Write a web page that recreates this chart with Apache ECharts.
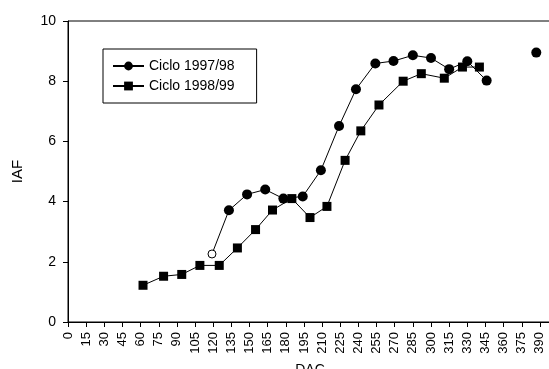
<!DOCTYPE html>
<html>
<head>
<meta charset="utf-8">
<title>IAF por ciclo</title>
<script src="https://cdn.jsdelivr.net/npm/echarts@6/dist/echarts.min.js"></script>
<style>
  html, body { margin: 0; padding: 0; background: #fff; }
  #main { width: 549px; height: 369px; }
</style>
</head>
<body>
<div id="main"></div>
<script>
// datos
var xTicks = [0,15,30,45,60,75,90,105,120,135,150,165,180,195,210,225,240,255,270,285,300,315,330,345,360,375,390];
var yTicks = [0,2,4,6,8,10];

// Ciclo 1997/98 (el primer punto va hueco)
var c97Days = [119,133,148,163,178,194,209,224,238,254,269,285,300,315,330,346];
var c97IAF  = [2.26,3.71,4.24,4.40,4.10,4.17,5.04,6.51,7.73,8.59,8.67,8.86,8.77,8.40,8.66,8.02];
var c97Hollow = [0];
// punto aislado del mismo ciclo, sin linea
var c97LoneDays = [387];
var c97LoneIAF  = [8.95];

// Ciclo 1998/99
var c98Days = [62,79,94,109,125,140,155,169,185,200,214,229,242,257,277,292,311,326,340];
var c98IAF  = [1.22,1.52,1.58,1.88,1.88,2.46,3.07,3.72,4.10,3.47,3.84,5.37,6.35,7.21,8.00,8.25,8.10,8.47,8.47];

function pairs(xs, ys) {
    return xs.map(function (x, i) { return [x, ys[i]]; });
}

var c97Data = pairs(c97Days, c97IAF).map(function (p, i) {
    if (c97Hollow.indexOf(i) >= 0) {
        return { value: p, symbolSize: 8,
                 itemStyle: { color: '#fff', borderColor: '#000', borderWidth: 1 } };
    }
    return p;
});

var font = 'Liberation Sans, Arial, sans-serif';

var myChart = echarts.init(document.getElementById('main'));

var option = {
    animation: false,
    backgroundColor: '#fff',
    grid: {
        left: 68, top: 21, right: -3, bottom: 47,
        show: true, borderColor: '#000', borderWidth: 1,
        containLabel: false, outerBoundsMode: 'none'
    },
    legend: {
        data: ['Ciclo 1997/98', 'Ciclo 1998/99'],
        orient: 'vertical',
        left: 103, top: 49,
        padding: [10, 22, 10, 9],
        itemWidth: 31, itemHeight: 11, itemGap: 6,
        borderColor: '#000', borderWidth: 1,
        textStyle: { fontFamily: font, fontSize: 14, color: '#000' }
    },
    xAxis: {
        type: 'value',
        min: 0, max: 400,
        name: 'DAC',
        nameLocation: 'middle',
        nameGap: 41,
        nameTextStyle: { fontFamily: font, fontSize: 14, color: '#000' },
        splitLine: { show: false },
        axisLine: { show: true, onZero: false, lineStyle: { color: '#000', width: 1 } },
        axisTick: { show: true, customValues: xTicks, length: 5, lineStyle: { color: '#000' } },
        axisLabel: {
            customValues: xTicks, rotate: 90, margin: 10,
            fontFamily: font, fontSize: 13, color: '#000'
        }
    },
    yAxis: {
        type: 'value',
        min: 0, max: 10, interval: 2,
        name: 'IAF',
        nameLocation: 'middle',
        nameGap: 43,
        nameTextStyle: { fontFamily: font, fontSize: 15, color: '#000' },
        splitLine: { show: false },
        axisLine: { show: true, lineStyle: { color: '#000', width: 1 } },
        axisTick: { show: true, length: 5, lineStyle: { color: '#000' } },
        axisLabel: {
            customValues: yTicks, margin: 12,
            fontFamily: font, fontSize: 14, color: '#000'
        }
    },
    series: [
        {
            name: 'Ciclo 1997/98',
            type: 'line',
            data: c97Data,
            symbol: 'circle',
            symbolSize: 10,
            itemStyle: { color: '#000' },
            lineStyle: { color: '#000', width: 1 }
        },
        {
            name: 'Ciclo 1998/99',
            type: 'line',
            data: pairs(c98Days, c98IAF),
            symbol: 'rect',
            symbolSize: 9,
            itemStyle: { color: '#000' },
            lineStyle: { color: '#000', width: 1 }
        },
        {
            name: 'aislado 1997/98',
            type: 'scatter',
            data: pairs(c97LoneDays, c97LoneIAF),
            symbol: 'circle',
            symbolSize: 10,
            itemStyle: { color: '#000', opacity: 1 }
        }
    ]
};

myChart.setOption(option);
</script>
</body>
</html>
